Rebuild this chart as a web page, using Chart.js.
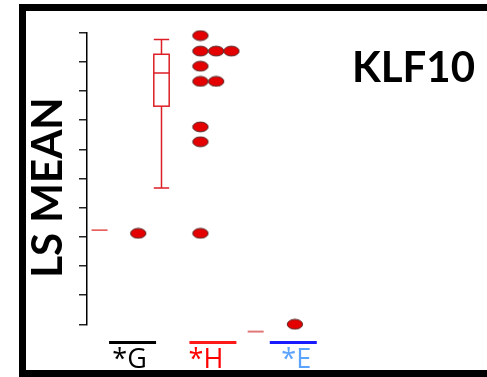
<!DOCTYPE html>
<html><head><meta charset="utf-8">
<script src="https://cdn.jsdelivr.net/npm/chart.js@4.4.1/dist/chart.umd.min.js"></script>
<style>html,body{margin:0;padding:0;background:#fff;}canvas{display:block;}</style>
</head><body>
<canvas id="c" width="487" height="377"></canvas>
<script>
// ---- data ----
const categories = ['*G', '*H', '*E'];
const categoryPos = [1, 2, 3];
const categoryTextColors = ['#000000', '#ff0000', '#5ba3ff'];
const categoryLineColors = ['#000000', '#ff1a1a', '#1a1aff'];
const dotX = [1.844, 1.844, 2.04, 2.23, 1.844, 1.844, 2.04, 1.844, 1.844, 1.844, 1.07, 3.02];
const dotY = [9.90, 9.37, 9.37, 9.37, 8.85, 8.33, 8.33, 6.77, 6.26, 3.12, 3.12, 0.0];
const boxPos = 1.36;
const boxStats = [4.67, 7.48, 8.62, 9.26, 9.77]; // low whisker, q1, median, q3, high whisker
const meanX = [0.589, 2.532];
const meanY = [3.23, -0.25];
const meanColors = ['#e03030', '#e07878'];
const yTicks = [0, 1, 2, 3, 4, 5, 6, 7, 8, 9, 10];
const geneName = 'KLF10';
const yTitle = 'LS MEAN';

// ellipse marker
const dot = document.createElement('canvas');
dot.width = 18; dot.height = 12;
(function(){
  const g = dot.getContext('2d');
  g.beginPath();
  g.ellipse(9, 6, 7.7, 4.9, 0, 0, Math.PI * 2);
  g.fillStyle = '#e40000';
  g.fill();
  g.lineWidth = 1;
  g.strokeStyle = '#5a2a2a';
  g.stroke();
})();

const decor = {
  id: 'decor',
  afterDraw(chart) {
    const ctx = chart.ctx;
    const xs = chart.scales.x, ys = chart.scales.y;
    ctx.save();
    // box plot
    const bx = xs.getPixelForValue(boxPos);
    const hw = 7.7;
    const p = boxStats.map(v => ys.getPixelForValue(v));
    ctx.strokeStyle = '#dc1f26';
    ctx.lineWidth = 1.5;
    ctx.beginPath();
    ctx.moveTo(bx, p[0]); ctx.lineTo(bx, p[1]);
    ctx.moveTo(bx, p[3]); ctx.lineTo(bx, p[4]);
    ctx.moveTo(bx - hw, p[0]); ctx.lineTo(bx + hw, p[0]);
    ctx.moveTo(bx - hw, p[4]); ctx.lineTo(bx + hw, p[4]);
    ctx.moveTo(bx - hw, p[2]); ctx.lineTo(bx + hw, p[2]);
    ctx.stroke();
    ctx.strokeRect(bx - hw, p[3], hw * 2, p[1] - p[3]);
    // mean dashes
    meanX.forEach((mx, i) => {
      const px = xs.getPixelForValue(mx), py = ys.getPixelForValue(meanY[i]);
      ctx.strokeStyle = meanColors[i];
      ctx.lineWidth = i === 0 ? 1.3 : 2;
      ctx.beginPath(); ctx.moveTo(px - 8, py); ctx.lineTo(px + 8, py); ctx.stroke();
    });
    // category labels with overlines
    const offs = [-3, -7, 3];
    ctx.font = '27px "Open Sans"';
    ctx.textAlign = 'center';
    ctx.textBaseline = 'alphabetic';
    categories.forEach((c, i) => {
      const cx = xs.getPixelForValue(categoryPos[i]);
      ctx.fillStyle = categoryLineColors[i];
      ctx.fillRect(cx - 23.5, 341, 47, 3);
      ctx.fillStyle = categoryTextColors[i];
      ctx.fillText(c, cx + offs[i], 368);
    });
    // gene name
    ctx.fillStyle = '#000';
    ctx.font = 'bold 42px Lato';
    ctx.textAlign = 'right';
    ctx.fillText(geneName, 475, 82);
    // y title
    ctx.save();
    ctx.translate(62, 187.5);
    ctx.rotate(-Math.PI / 2);
    ctx.textAlign = 'center';
    ctx.fillText(yTitle, 0, 0);
    ctx.restore();
    // frame
    ctx.fillStyle = '#000';
    ctx.fillRect(19, 4, 487 - 19, 7);
    ctx.fillRect(19, 4, 7, 377 - 4);
    ctx.fillRect(19, 370, 487 - 19, 7);
    ctx.restore();
  }
};

new Chart(document.getElementById('c'), {
  type: 'scatter',
  data: {
    datasets: [{
      data: dotX.map((x, i) => ({ x: x, y: dotY[i] })),
      pointStyle: dot,
      pointRadius: 8,
      clip: false
    }]
  },
  options: {
    responsive: false,
    animation: false,
    devicePixelRatio: 1,
    layout: { padding: { left: 79, right: 33, top: 32.7, bottom: 52.7 } },
    plugins: { legend: { display: false }, tooltip: { enabled: false } },
    scales: {
      x: { type: 'linear', display: false, min: 0.433, max: 5.0 },
      y: {
        type: 'linear', min: 0, max: 10,
        afterBuildTicks(scale) { scale.ticks = yTicks.map(v => ({ value: v })); },
        afterFit(scale) { scale.width = 8; },
        ticks: { display: false },
        grid: { drawOnChartArea: false, drawTicks: true, tickLength: 8, color: '#222', lineWidth: 1.5 },
        border: { display: true, color: '#000', width: 1.5 }
      }
    }
  },
  plugins: [decor]
});
</script>
</body></html>
